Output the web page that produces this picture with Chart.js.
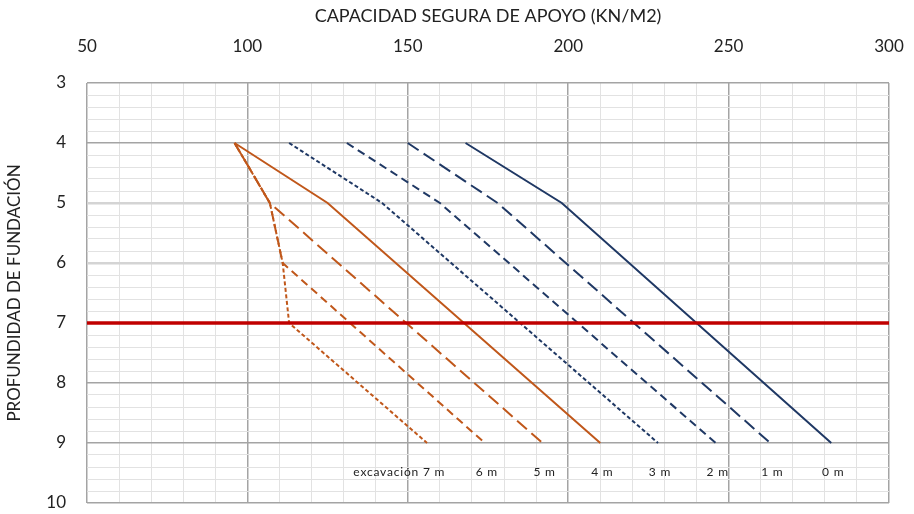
<!DOCTYPE html>
<html>
<head>
<meta charset="utf-8">
<script src="https://cdn.jsdelivr.net/npm/chart.js@4"></script>
<style>
  html, body { margin: 0; padding: 0; background: #fff; }
  #wrap { width: 914px; height: 514px; position: relative; }
</style>
</head>
<body>
<div id="wrap"><canvas id="c" width="914" height="514"></canvas></div>
<script>
// Safe bearing capacity (kN/m2) against foundation depth (m), one curve per excavation depth.
const depthsAB = [4, 5, 9];
const depths6 = [4, 5, 6, 9];
const depths7 = [4, 5, 6, 7, 9];

const cap0m = [168, 198, 282];
const cap1m = [150, 178, 263];
const cap2m = [131, 160, 246];
const cap3m = [113, 142, 228];
const cap4m = [96, 125, 210];
const cap5m = [96, 107, 192];
const cap6m = [96, 107, 111, 174];
const cap7m = [96, 107, 111, 113, 156];

const curveLabels = ['0 m', '1 m', '2 m', '3 m', '4 m', '5 m', '6 m', 'excavación 7 m'];

const limitDepth = 7;
const xTicks = [50, 100, 150, 200, 250, 300];
const yTicks = [3, 4, 5, 6, 7, 8, 9, 10];

const NAVY = '#1F3864';
const BROWN = '#C0571A';
const FONT = 'Lato, "Open Sans", sans-serif';

function pts(depths, caps) {
  return depths.map((d, i) => ({ x: caps[i], y: d }));
}

const curves = [
  { data: pts(depthsAB, cap0m), color: NAVY, dash: [] },
  { data: pts(depthsAB, cap1m), color: NAVY, dash: [13, 6] },
  { data: pts(depthsAB, cap2m), color: NAVY, dash: [8, 5] },
  { data: pts(depthsAB, cap3m), color: NAVY, dash: [4, 2.5] },
  { data: pts(depthsAB, cap4m), color: BROWN, dash: [] },
  { data: pts(depthsAB, cap5m), color: BROWN, dash: [13, 6] },
  { data: pts(depths6, cap6m), color: BROWN, dash: [8, 5] },
  { data: pts(depths7, cap7m), color: BROWN, dash: [4, 2.5] }
];

const datasets = curves.map((c, i) => ({
  label: curveLabels[i],
  data: c.data,
  borderColor: c.color,
  borderWidth: 2,
  borderDash: c.dash,
  pointRadius: 0,
  fill: false,
  tension: 0,
  order: 1
}));

datasets.push({
  label: 'límite',
  data: [{ x: xTicks[0], y: limitDepth }, { x: xTicks[xTicks.length - 1], y: limitDepth }],
  borderColor: '#C00000',
  borderWidth: 3.5,
  pointRadius: 0,
  fill: false,
  order: 0
});

const isInt = v => Math.abs(v - Math.round(v)) < 1e-6;
const isMajorX = v => xTicks.some(t => Math.abs(t - v) < 1e-6);

// Curve names written just below the end of each curve
const endLabels = {
  id: 'endLabels',
  afterDatasetsDraw(chart) {
    const { ctx, scales: { x, y } } = chart;
    ctx.save();
    ctx.font = '12px ' + FONT;
    if ('letterSpacing' in ctx) ctx.letterSpacing = '0.8px';
    ctx.fillStyle = '#222';
    ctx.textBaseline = 'middle';
    const yPix = y.getPixelForValue(9.48);
    curves.forEach((c, i) => {
      const last = c.data[c.data.length - 1];
      const xPix = x.getPixelForValue(last.x);
      const text = curveLabels[i];
      if (text.length > 4) {
        const tail = '7 m';
        const w = ctx.measureText(tail).width;
        ctx.textAlign = 'right';
        ctx.fillText(text, xPix + w / 2 + 7, yPix);
      } else {
        ctx.textAlign = 'center';
        ctx.fillText(text, xPix + 2, yPix);
      }
    });
    ctx.restore();
  }
};

new Chart(document.getElementById('c'), {
  type: 'line',
  data: { datasets },
  plugins: [endLabels],
  options: {
    responsive: false,
    animation: false,
    layout: { padding: { left: 0, right: 25, top: 0, bottom: 11 } },
    plugins: { legend: { display: false }, tooltip: { enabled: false } },
    scales: {
      x: {
        type: 'linear',
        position: 'top',
        min: 50,
        max: 300,
        afterFit(s) { s.height = 83; s.paddingLeft = 0; s.paddingRight = 0; },
        ticks: {
          stepSize: 10,
          autoSkip: false,
          maxRotation: 0,
          padding: 26,
          color: '#222',
          font: { family: FONT, size: 17 },
          callback: v => (isMajorX(v) ? String(v) : '')
        },
        grid: {
          drawTicks: false,
          color: ctx => (isMajorX(ctx.tick.value) ? '#a4a4a4' : '#e2e2e2'),
          lineWidth: ctx => (isMajorX(ctx.tick.value) ? 1.5 : 1)
        },
        border: { display: false },
        title: {
          display: true,
          text: 'CAPACIDAD SEGURA DE APOYO (KN/M2)',
          color: '#222',
          font: { family: FONT, size: 18 },
          padding: { top: 5, bottom: 0 }
        }
      },
      y: {
        type: 'linear',
        reverse: true,
        min: 3,
        max: 10,
        afterFit(s) { s.width = 87; s.paddingTop = 0; s.paddingBottom = 0; },
        ticks: {
          stepSize: 0.2,
          autoSkip: false,
          padding: 21,
          color: '#222',
          font: { family: FONT, size: 17 },
          callback: v => (isInt(v) ? String(Math.round(v)) : '')
        },
        grid: {
          drawTicks: false,
          color: ctx => {
            const v = ctx.tick.value;
            if (!isInt(v)) return '#e2e2e2';
            const r = Math.round(v);
            return (r === 5 || r === 6) ? '#d4d4d4' : '#a4a4a4';
          },
          lineWidth: ctx => {
            const v = ctx.tick.value;
            if (!isInt(v)) return 1;
            const r = Math.round(v);
            return (r === 5 || r === 6) ? 2.5 : 1.5;
          }
        },
        border: { display: false },
        title: {
          display: true,
          text: 'PROFUNDIDAD DE FUNDACIÓN',
          color: '#222',
          font: { family: FONT, size: 17 },
          padding: { top: 4, bottom: 0 }
        }
      }
    }
  }
});
</script>
</body>
</html>
